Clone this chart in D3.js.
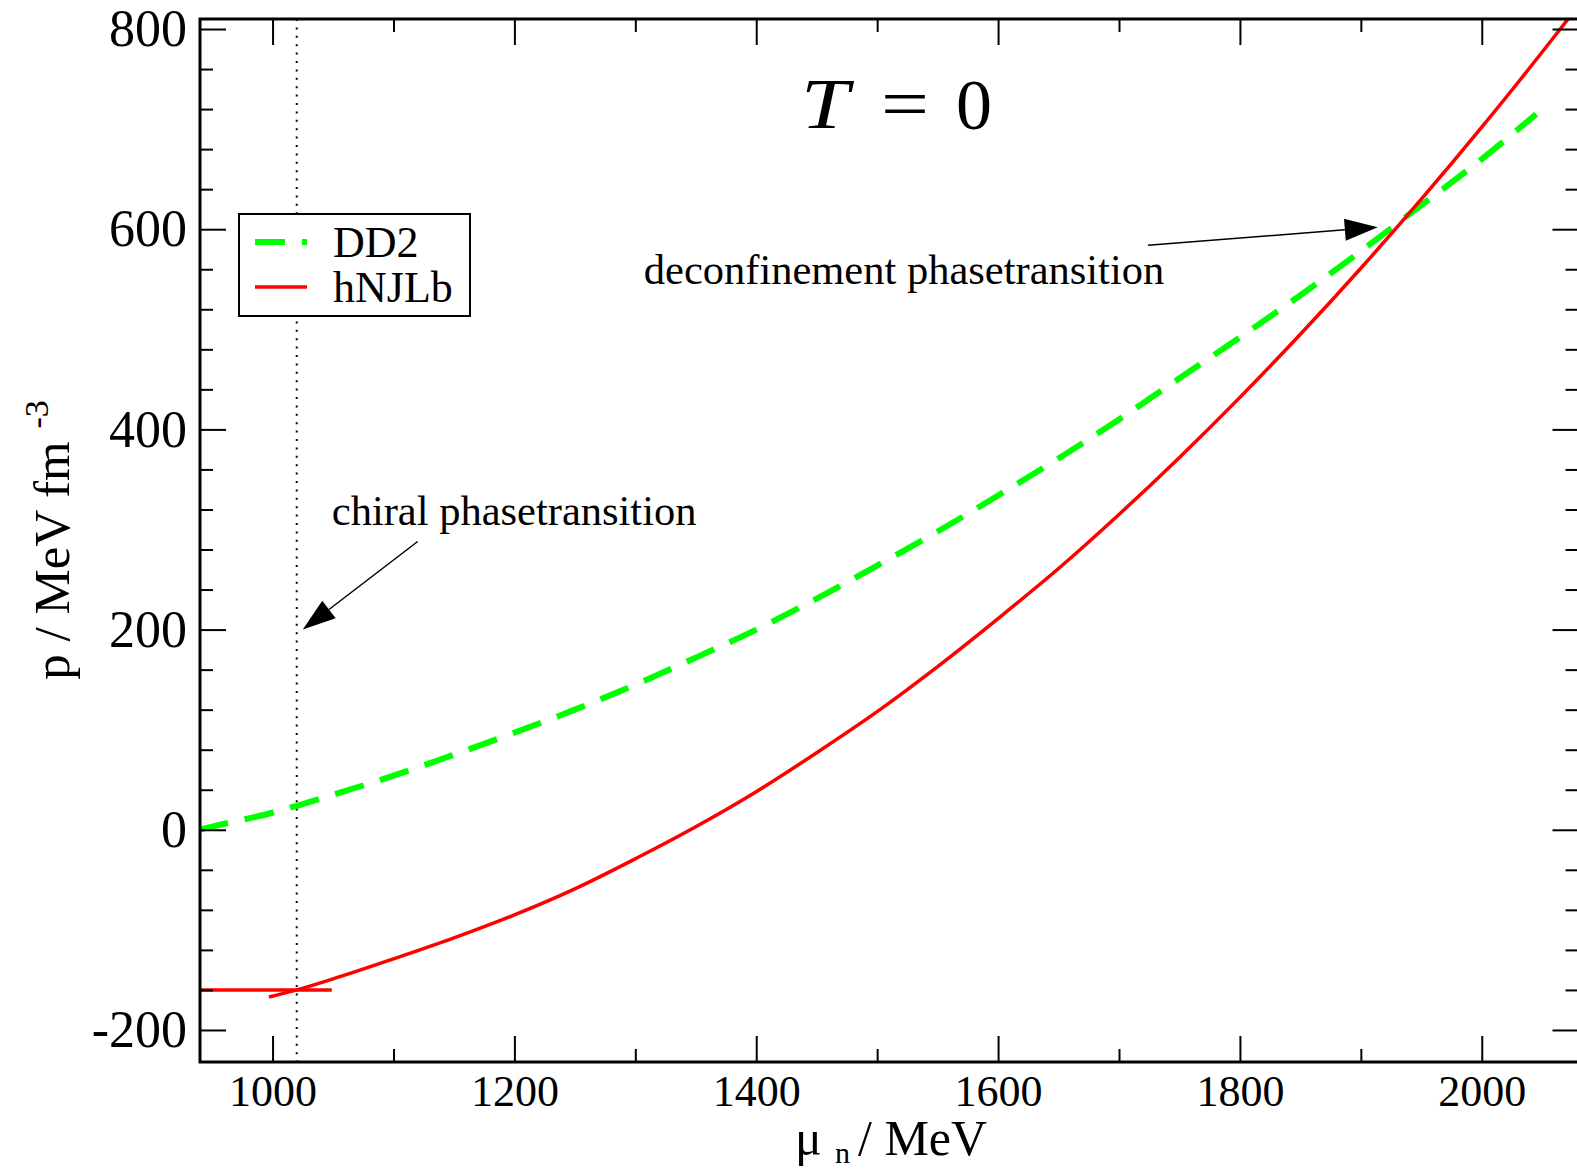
<!DOCTYPE html>
<html><head><meta charset="utf-8">
<script src="https://cdn.jsdelivr.net/npm/d3@7"></script>
<style>
body{margin:0;background:#fff}
svg{display:block}
text{font-family:"Liberation Serif","Times New Roman",serif;fill:#000}
</style></head>
<body><svg id="c" width="1577" height="1170"></svg>
<script>
// ---- data ----
const muDD2 = [939, 960, 1000, 1020, 1050, 1100, 1150, 1200, 1250, 1300, 1350, 1400, 1450, 1500, 1550, 1600, 1650, 1700, 1750, 1800, 1850, 1900, 1950, 2000, 2045];
const pDD2  = [0, 6, 17, 24, 35, 54, 75, 97, 120, 145, 172, 200, 231, 264, 298, 334, 371, 410, 451, 492, 534, 578, 624, 670, 715];
const muNJL = [997, 1020, 1050, 1100, 1150, 1200, 1250, 1300, 1350, 1400, 1450, 1500, 1550, 1600, 1650, 1700, 1750, 1800, 1850, 1900, 1950, 2000, 2050, 2085];
const pNJL  = [-167, -160, -149, -129, -108, -85, -59, -29, 3, 38, 77, 118, 163, 211, 261, 315, 372, 432, 495, 561, 630, 702, 777, 831];
const muFlat = [930, 1049];
const pFlat  = [-160, -160];
const muChiral = 1020;
const xTicksMajor = [1000, 1200, 1400, 1600, 1800, 2000];
const xTicksMinor = [1100, 1300, 1500, 1700, 1900];
const yTicksMajor = [-200, 0, 200, 400, 600, 800];
const yTicksMinor = [-160, -120, -80, -40, 40, 80, 120, 160, 240, 280, 320, 360, 440, 480, 520, 560, 640, 680, 720, 760];
const seriesNames = ["DD2", "hNJLb"];
const seriesColors = ["#00ff00", "#ff0000"];
const annotations = [
  {text: "chiral phasetransition", at: [1049, 304], from: [1120, 288], to: [1025, 200]},
  {text: "deconfinement phasetransition", at: [1307, 545], from: [1724, 584], to: [1914, 602]}
];

// ---- layout ----
const L = 200, R = 1578.5, T = 19, B = 1062;
const svg = d3.select('#c');
const x = d3.scaleLinear().domain([940, 2080]).range([L, R]);
const y = d3.scaleLinear().domain([-232, 810]).range([B, T]);

svg.append('defs').append('clipPath').attr('id', 'clip')
  .append('rect').attr('x', L).attr('y', T).attr('width', R - L).attr('height', B - T);

const plot = svg.append('g').attr('clip-path', 'url(#clip)');

// dotted vertical line
plot.append('line')
  .attr('x1', x(muChiral)).attr('x2', x(muChiral)).attr('y1', T).attr('y2', B)
  .attr('stroke', '#000').attr('stroke-width', 2).attr('stroke-dasharray', '2,6.4');

const line = d3.line().x(d => x(d[0])).y(d => y(d[1])).curve(d3.curveMonotoneX);
const zip = (a, b) => a.map((v, i) => [v, b[i]]);

plot.append('path').attr('d', line(zip(muDD2, pDD2)))
  .attr('fill', 'none').attr('stroke', seriesColors[0]).attr('stroke-width', 6)
  .attr('stroke-dasharray', '30,17');
plot.append('path').attr('d', line(zip(muFlat, pFlat)))
  .attr('fill', 'none').attr('stroke', seriesColors[1]).attr('stroke-width', 3.5);
plot.append('path').attr('d', line(zip(muNJL, pNJL)))
  .attr('fill', 'none').attr('stroke', seriesColors[1]).attr('stroke-width', 3.5);

// axes
function styleAxis(g, fs) {
  g.select('.domain').remove();
  g.selectAll('line').attr('stroke', '#000').attr('stroke-width', 2);
  g.selectAll('text').style('font-size', fs + 'px')
    .style('font-family', '"Liberation Serif","Times New Roman",serif');
}
const fmt = d => String(d);
svg.append('g').attr('transform', `translate(0,${B})`)
  .call(d3.axisBottom(x).tickValues(xTicksMajor).tickSize(-26).tickPadding(13).tickFormat(fmt))
  .call(g => styleAxis(g, 44));
svg.append('g').attr('transform', `translate(0,${B})`)
  .call(d3.axisBottom(x).tickValues(xTicksMinor).tickSize(-13).tickFormat(''))
  .call(g => styleAxis(g, 10));
svg.append('g').attr('transform', `translate(0,${T})`)
  .call(d3.axisTop(x).tickValues(xTicksMajor).tickSize(-26).tickFormat(''))
  .call(g => styleAxis(g, 10));
svg.append('g').attr('transform', `translate(0,${T})`)
  .call(d3.axisTop(x).tickValues(xTicksMinor).tickSize(-13).tickFormat(''))
  .call(g => styleAxis(g, 10));
svg.append('g').attr('transform', `translate(${L},0)`)
  .call(d3.axisLeft(y).tickValues(yTicksMajor).tickSize(-26).tickPadding(13).tickFormat(fmt))
  .call(g => styleAxis(g, 52));
svg.append('g').attr('transform', `translate(${L},0)`)
  .call(d3.axisLeft(y).tickValues(yTicksMinor).tickSize(-13).tickFormat(''))
  .call(g => styleAxis(g, 10));
svg.append('g').attr('transform', `translate(${R},0)`)
  .call(d3.axisRight(y).tickValues(yTicksMajor).tickSize(-26).tickFormat(''))
  .call(g => styleAxis(g, 10));
svg.append('g').attr('transform', `translate(${R},0)`)
  .call(d3.axisRight(y).tickValues(yTicksMinor).tickSize(-13).tickFormat(''))
  .call(g => styleAxis(g, 10));

// frame
svg.append('rect').attr('x', L).attr('y', T).attr('width', R - L).attr('height', B - T)
  .attr('fill', 'none').attr('stroke', '#000').attr('stroke-width', 3);

// annotations
annotations.forEach(a => {
  svg.append('text').attr('x', x(a.at[0])).attr('y', y(a.at[1]))
    .style('font-size', '42.5px').text(a.text);
  const p0 = [x(a.from[0]), y(a.from[1])], p1 = [x(a.to[0]), y(a.to[1])];
  const dx = p1[0] - p0[0], dy = p1[1] - p0[1], len = Math.hypot(dx, dy);
  const ux = dx / len, uy = dy / len, hl = 33, hw = 11;
  const bx = p1[0] - ux * hl, by = p1[1] - uy * hl;
  svg.append('line').attr('x1', p0[0]).attr('y1', p0[1]).attr('x2', bx).attr('y2', by)
    .attr('stroke', '#000').attr('stroke-width', 1.5);
  svg.append('polygon').attr('points', [
    [p1[0], p1[1]], [bx - uy * hw, by + ux * hw], [bx + uy * hw, by - ux * hw]
  ].map(p => p.join(',')).join(' ')).attr('fill', '#000');
});

// title T = 0
svg.append('text').attr('x', 801).attr('y', 128).style('font-size', '72px').style('font-style', 'italic')
  .attr('textLength', 48).attr('lengthAdjust', 'spacingAndGlyphs').text('T');
svg.append('text').attr('x', 881).attr('y', 128).style('font-size', '72px')
  .attr('textLength', 48).attr('lengthAdjust', 'spacingAndGlyphs').text('=');
svg.append('text').attr('x', 956).attr('y', 129).style('font-size', '72px').text('0');

// legend
const lg = svg.append('g');
lg.append('rect').attr('x', 239).attr('y', 214).attr('width', 231).attr('height', 102)
  .attr('fill', '#fff').attr('stroke', '#000').attr('stroke-width', 2);
seriesNames.forEach((n, i) => {
  const ly = 242 + i * 45;
  lg.append('line').attr('x1', 255).attr('x2', 307).attr('y1', ly).attr('y2', ly)
    .attr('stroke', seriesColors[i]).attr('stroke-width', i === 0 ? 6 : 3.5)
    .attr('stroke-dasharray', i === 0 ? '30,17' : null);
  lg.append('text').attr('x', 333).attr('y', ly + 15).style('font-size', '44px').text(n);
});

// axis labels
const xl = svg.append('text').attr('y', 1155).style('font-size', '50px');
xl.append('tspan').attr('x', 795).text('μ');
xl.append('tspan').attr('x', 835).attr('dy', 8).style('font-size', '30px').text('n');
xl.append('tspan').attr('x', 858).attr('dy', -8).text('/ MeV');

const yl = svg.append('text').attr('transform', 'translate(69,540) rotate(-90)')
  .attr('text-anchor', 'middle').style('font-size', '51px');
yl.append('tspan').text('p / MeV fm ');
yl.append('tspan').attr('dy', -21).style('font-size', '34px').text('-3');
</script></body></html>
